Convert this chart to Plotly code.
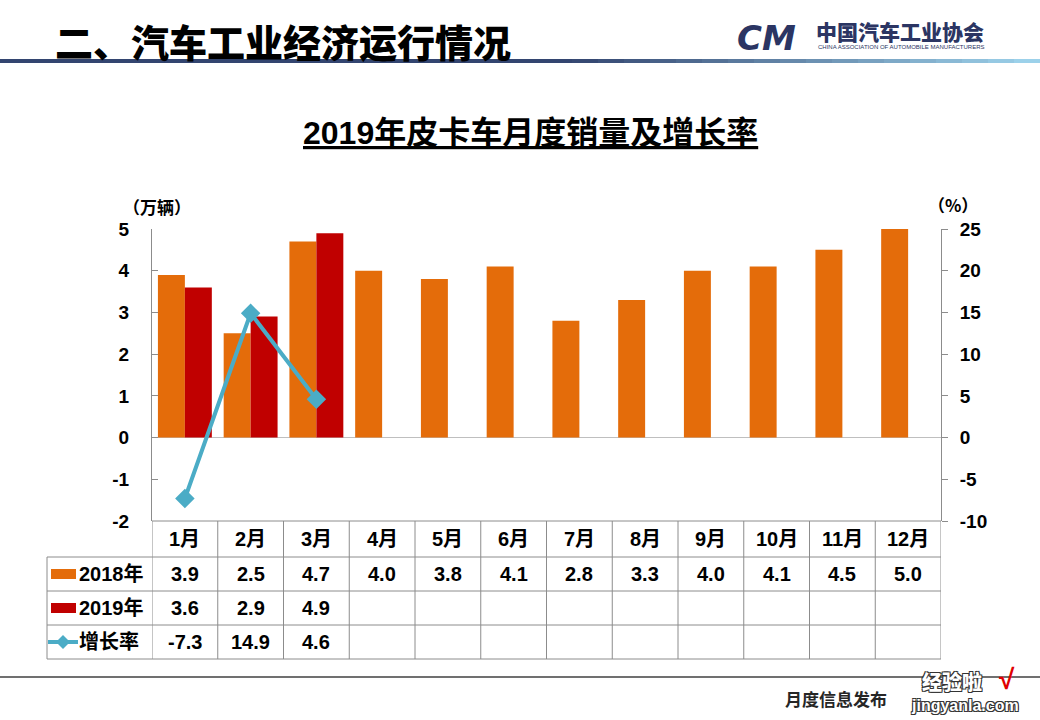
import plotly.graph_objects as go

months = ["1月", "2月", "3月", "4月", "5月", "6月", "7月", "8月", "9月", "10月", "11月", "12月"]
sales_2018 = [3.9, 2.5, 4.7, 4.0, 3.8, 4.1, 2.8, 3.3, 4.0, 4.1, 4.5, 5.0]
sales_2019 = [3.6, 2.9, 4.9]
growth = [-7.3, 14.9, 4.6]
series_names = ["2018年", "2019年", "增长率"]
left_ticks = [-2, -1, 0, 1, 2, 3, 4, 5]
right_ticks = [-10, -5, 0, 5, 10, 15, 20, 25]

ORANGE = "#E46C0A"
RED = "#C00000"
TEAL = "#4BACC6"
GRID = "#8C8C8C"
FONT = "Liberation Sans, Arial, Noto Sans CJK SC"
CJK = "Noto Sans CJK SC"

# plot area pixel frame
L, R, T, B = 152, 941, 229, 521
def px(X):
    return (X - L) / (R - L)
def py(Y):
    return (B - Y) / (B - T)

pad = lambda v, n: v + [None] * (n - len(v))
n = len(months)

fig = go.Figure()
fig.add_trace(go.Bar(x=months, y=sales_2018, name=series_names[0], marker_color=ORANGE,
                     marker_line_width=0, yaxis="y"))
fig.add_trace(go.Bar(x=months, y=pad(sales_2019, n), name=series_names[1], marker_color=RED,
                     marker_line_width=0, yaxis="y"))
fig.add_trace(go.Scatter(x=months[:len(growth)], y=growth, name=series_names[2], yaxis="y2",
                         mode="lines+markers", line=dict(color=TEAL, width=4),
                         marker=dict(symbol="diamond", size=15, color=TEAL)))

tickfont = dict(family=FONT, size=19, color="#000000", weight="bold")
fig.update_layout(
    width=1040, height=720,
    margin=dict(l=L, r=1040 - R, t=T, b=720 - B),
    paper_bgcolor="white", plot_bgcolor="white",
    showlegend=False, barmode="group", bargap=0.18, bargroupgap=0,
    xaxis=dict(showticklabels=False, ticks="", showline=False, showgrid=False,
               zeroline=False, range=[-0.5, n - 0.5]),
    yaxis=dict(range=[-2, 5], tickmode="array", tickvals=left_ticks,
               ticktext=[str(v) for v in left_ticks], showgrid=False, showline=True,
               linecolor=GRID, linewidth=1, ticks="inside", ticklen=6, tickcolor=GRID,
               zeroline=True, zerolinecolor="#BFBFBF", zerolinewidth=1,
               tickfont=tickfont, ticklabelstandoff=18),
    yaxis2=dict(range=[-10, 25], tickmode="array", tickvals=right_ticks,
                ticktext=[str(v) for v in right_ticks], overlaying="y", side="right",
                showgrid=False, showline=True, linecolor=GRID, linewidth=1, ticks="outside",
                ticklen=6, tickcolor=GRID, zeroline=False, tickfont=tickfont,
                ticklabelstandoff=8),
)

shapes = []
ann = []

def note(x, y, text, font, xref="paper", xanchor="center"):
    ann.append(dict(x=x, xref=xref, y=py(y), yref="paper", text=text, showarrow=False,
                    xanchor=xanchor, yanchor="middle", font=font))

# ---- table ----
row_lines = [521, 557, 591, 625, 659]
cell_font = dict(family=FONT, size=20, color="#000000", weight="bold")
line = dict(color=GRID, width=1)
shapes.append(dict(type="line", xref="paper", yref="paper", x0=px(152), x1=px(941),
                   y0=py(521), y1=py(521), line=line))
for Y in row_lines[1:]:
    shapes.append(dict(type="line", xref="paper", yref="paper", x0=px(47), x1=px(941),
                       y0=py(Y), y1=py(Y), line=line))
for i in range(n + 1):
    shapes.append(dict(type="line", xref="x", yref="paper", x0=i - 0.5, x1=i - 0.5,
                       y0=py(521), y1=py(659), line=line))
shapes.append(dict(type="line", xref="paper", yref="paper", x0=px(47), x1=px(47),
                   y0=py(557), y1=py(659), line=line))

row_centers = [539, 574, 608, 642]
for i, m in enumerate(months):
    note(m, row_centers[0], m, cell_font, xref="x")
for r, vals in enumerate([sales_2018, sales_2019, growth]):
    for i, v in enumerate(vals):
        note(months[i], row_centers[r + 1], f"{v:.1f}", cell_font, xref="x")
    note(px(77), row_centers[r + 1], series_names[r], cell_font, xanchor="left")

# legend keys
shapes.append(dict(type="rect", xref="paper", yref="paper", x0=px(51), x1=px(76),
                   y0=py(569), y1=py(579), fillcolor=ORANGE, line=dict(width=0)))
shapes.append(dict(type="rect", xref="paper", yref="paper", x0=px(51), x1=px(76),
                   y0=py(603), y1=py(613), fillcolor=RED, line=dict(width=0)))
shapes.append(dict(type="line", xref="paper", yref="paper", x0=px(48), x1=px(78),
                   y0=py(642), y1=py(642), line=dict(color=TEAL, width=4)))
cx, cy, d = 63, 642, 7
shapes.append(dict(type="path", xref="paper", yref="paper",
                   path=f"M {px(cx-d)},{py(cy)} L {px(cx)},{py(cy-d)} L {px(cx+d)},{py(cy)} L {px(cx)},{py(cy+d)} Z",
                   fillcolor=TEAL, line=dict(width=0)))

# ---- axis unit labels ----
note(px(157), 207, "（万辆）", dict(family=CJK, size=17, color="#000", weight="bold"))
note(px(953), 204, "（%）", dict(family=CJK, size=17, color="#000", weight="bold"))

# ---- chart title ----
note(px(530), 133, "<u>2019年皮卡车月度销量及增长率</u>",
     dict(family=FONT, size=32, color="#000", weight="bold"))

# ---- page header ----
note(px(53), 40, "二、汽车工业经济运行情况",
     dict(family=CJK, size=38, color="#000", weight=900), xanchor="left")
NAVY = "#2B3563"
note(px(766), 38, "<i>CM</i>", dict(family="DejaVu Sans", size=34, color=NAVY, weight=900))
note(px(900), 31, "中国汽车工业协会", dict(family=CJK, size=21, color=NAVY, weight=900))
note(px(901), 47, "CHINA ASSOCIATION OF AUTOMOBILE MANUFACTURERS",
     dict(family=FONT, size=6, color=NAVY))

# header gradient rule
c0 = (0x33, 0x45, 0x70)
c1 = (0x9C, 0xD2, 0xEA)
segs = 40
for k in range(segs):
    t = k / (segs - 1)
    w = max(0.0, (t - 0.55) / 0.45)
    col = tuple(int(c0[j] + (c1[j] - c0[j]) * w) for j in range(3))
    shapes.append(dict(type="line", xref="paper", yref="paper",
                       x0=px(1040 * k / segs), x1=px(1040 * (k + 1) / segs + 1),
                       y0=py(61), y1=py(61),
                       line=dict(color="rgb(%d,%d,%d)" % col, width=4)))

# footer
shapes.append(dict(type="line", xref="paper", yref="paper", x0=px(0), x1=px(1040),
                   y0=py(677), y1=py(677), line=dict(color="#404040", width=1.5)))
note(px(836), 698, "月度信息发布", dict(family=CJK, size=17, color="#262626", weight="bold"))
outline = "1px 1px 0 #333, -1px -1px 0 #333, 1px -1px 0 #333, -1px 1px 0 #333"
note(px(952), 681, "经验啦", dict(family=CJK, size=20, color="white", weight=900, shadow=outline))
note(px(1007), 679, "√", dict(family=FONT, size=28, color="#E00000", weight="bold"))
note(px(965), 705, "jingyanla.com",
     dict(family=FONT, size=16, color="white", weight="bold", shadow=outline))

fig.update_layout(shapes=shapes, annotations=ann)
fig.write_html("out.html", config={"displayModeBar": False},
               post_script="document.body.style.margin='0';")
